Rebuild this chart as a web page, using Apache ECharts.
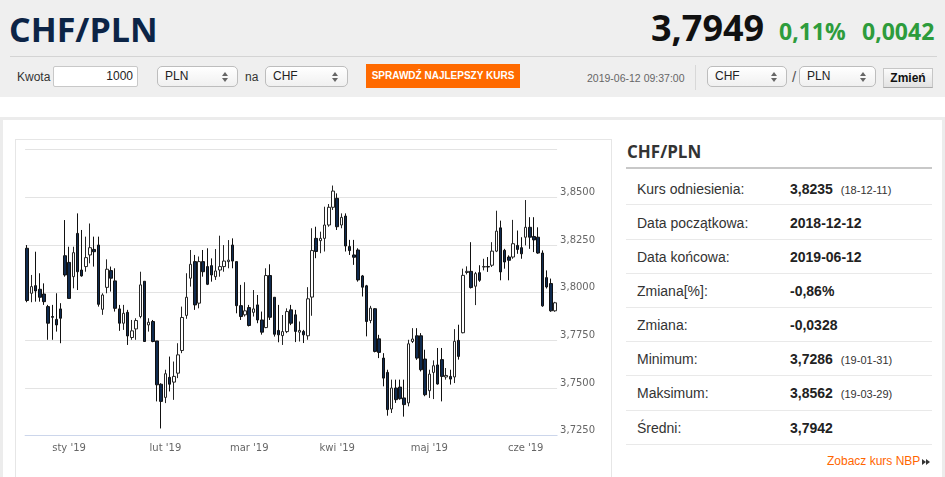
<!DOCTYPE html>
<html lang="pl">
<head>
<meta charset="utf-8">
<title>CHF/PLN</title>
<script src="https://cdn.jsdelivr.net/npm/echarts@6/dist/echarts.min.js"></script>
<style>
    html, body { margin: 0; padding: 0; }
    body { width: 945px; height: 477px; overflow: hidden; position: relative; background: #fff;
           font-family: "Liberation Sans", Arial, sans-serif; color: #333; }
    .abs { position: absolute; white-space: nowrap; }
    #header { position: absolute; left: 0; top: 0; width: 945px; height: 97px; background: #efefef; }
    .os { font-family: "Open Sans", sans-serif; font-weight: 700; }
    .sel { position: absolute; top: 66px; height: 21px; box-sizing: border-box; border: 1px solid #bdbdbd;
           border-radius: 5px; background: linear-gradient(#ffffff, #f0f0f0); font-size: 12px; line-height: 18px;
           padding-left: 7px; color: #222; }
    .sel .arr { position: absolute; right: 9px; top: 5px; width: 6px; height: 10px; }
    .sel .arr:before, .sel .arr:after { content: ''; position: absolute; left: 0; width: 0; height: 0;
           border-left: 3px solid transparent; border-right: 3px solid transparent; }
    .sel .arr:before { top: 0; border-bottom: 4px solid #666; }
    .sel .arr:after { top: 6px; border-top: 4px solid #666; }
    #frame { position: absolute; left: 0; top: 117px; width: 945px; height: 380px; box-sizing: border-box;
             border: 3px solid #ececec; background: #fff; }
    #chartBox { position: absolute; left: 15px; top: 139px; width: 597px; height: 350px; box-sizing: border-box;
                border: 1px solid #e6e6e6; }
    #chart { position: absolute; left: 16px; top: 140px; width: 595px; height: 337px; }
    .row-l { position: absolute; left: 637px; font-size: 14px; line-height: 16px; color: #333; white-space: nowrap; }
    .row-v { position: absolute; left: 790px; font-size: 14px; line-height: 16px; font-weight: bold; color: #222; white-space: nowrap; }
    .row-v small { font-size: 11px; font-weight: normal; color: #333; margin-left: 8px; }
    .sep { position: absolute; left: 626px; width: 306px; height: 1px; background: #e9e9e9; }
</style>
</head>
<body>

<div id="header">
    <div class="abs os" style="left:9px; top:12px; font-size:34px; line-height:34px; color:#0c2446;">CHF/PLN</div>
    <div class="abs os" style="left:651px; top:10px; font-size:36px; line-height:36px; color:#111;">3,7949</div>
    <div class="abs os" style="left:779px; top:20px; font-size:23px; line-height:23px; color:#2d9c3c;">0,11%</div>
    <div class="abs os" style="left:862px; top:20px; font-size:23px; line-height:23px; color:#2d9c3c;">0,0042</div>
    <div class="abs" style="left:10px; top:56px; width:927px; height:1px; background:#d4d4d4;"></div>

    <div class="abs" style="left:17px; top:69px; font-size:12px; line-height:16px; color:#333;">Kwota</div>
    <div class="abs" style="left:53px; top:66px; width:85px; height:21px; box-sizing:border-box; border:1px solid #c8c8c8;
         border-radius:2px; background:#fff; font-size:12px; line-height:19px; text-align:right; padding-right:4px; color:#222;">1000</div>
    <div class="sel" style="left:157px; width:81px;">PLN<span class="arr"></span></div>
    <div class="abs" style="left:245px; top:69px; font-size:12px; line-height:16px; color:#333;">na</div>
    <div class="sel" style="left:265px; width:83px;">CHF<span class="arr"></span></div>
    <div class="abs" style="left:366px; top:64px; width:154px; height:24px; background:#ff6a00; color:#fff;
         font-size:10px; font-weight:bold; line-height:24px; text-align:center;">SPRAWDŹ NAJLEPSZY KURS</div>

    <div class="abs" style="left:587px; top:71px; font-size:10.5px; line-height:14px; color:#666;">2019-06-12 09:37:00</div>
    <div class="abs" style="left:695px; top:65px; width:1px; height:25px; background:#d8d8d8;"></div>
    <div class="sel" style="left:707px; width:80px;">CHF<span class="arr"></span></div>
    <div class="abs" style="left:792px; top:68px; font-size:15px; line-height:18px; color:#555;">/</div>
    <div class="sel" style="left:799px; width:77px;">PLN<span class="arr"></span></div>
    <div class="abs" style="left:883px; top:68px; width:50px; height:20px; box-sizing:border-box; border:1px solid #c6c6c6;
         border-bottom-color:#aaa; background:linear-gradient(#fbfbfb, #e2e2e2); font-size:12px; font-weight:bold;
         line-height:18px; text-align:center; color:#111;">Zmień</div>
</div>

<div id="frame"></div>
<div id="chartBox"></div>
<div id="chart"></div>

<div class="abs os" style="left:627px; top:143px; font-size:17px; line-height:17px; color:#333;">CHF/PLN</div>
<div class="abs" style="left:626px; top:167px; width:306px; height:2px; background:#c8c8c8;"></div>
<div id="stats"></div>

<div class="abs" style="left:827px; top:454px; font-size:12px; line-height:15px; color:#ff6600;">Zobacz kurs NBP</div>
<div class="abs" style="left:922px; top:459px; width:0; height:0; border-top:3px solid transparent; border-bottom:3px solid transparent; border-left:4px solid #333;"></div>
<div class="abs" style="left:926px; top:459px; width:0; height:0; border-top:3px solid transparent; border-bottom:3px solid transparent; border-left:4px solid #333;"></div>

<script>
// notowania dzienne CHF/PLN, 2018-12-18 .. 2019-06-12 (dni robocze)
var opens = [
    3.8233, 3.7997, 3.8037, 3.8018, 3.7993, 3.7927, 3.7875, 3.7860, 3.7915, 3.8194,
    3.8159, 3.8084, 3.8311, 3.8119, 3.8137, 3.8198, 3.8227, 3.8250, 3.7913, 3.8028,
    3.8116, 3.8062, 3.7915, 3.7840, 3.7897, 3.7765, 3.7810, 3.7875, 3.8060, 3.7831,
    3.7849, 3.7747, 3.7520, 3.7451, 3.7556, 3.7531, 3.7578, 3.7697, 3.7881, 3.8076,
    3.8163, 3.7945, 3.8163, 3.8137, 3.8142, 3.8084, 3.8119, 3.8137, 3.8163, 3.8250,
    3.8163, 3.7932, 3.7884, 3.7922, 3.7897, 3.7936, 3.7857, 3.7817, 3.8090, 3.7976,
    3.7802, 3.7775, 3.7796, 3.7910, 3.7884, 3.7793, 3.7797, 3.7774, 3.7977, 3.8285,
    3.8273, 3.8285, 3.8355, 3.8448, 3.8495, 3.8355, 3.8402, 3.8242, 3.8198, 3.8224,
    3.8088, 3.8036, 3.7854, 3.7916, 3.7758, 3.7657, 3.7582, 3.7390, 3.7500, 3.7505,
    3.7448, 3.7422, 3.7744, 3.7774, 3.7774, 3.7652, 3.7486, 3.7582, 3.7621, 3.7649,
    3.7558, 3.7561, 3.7558, 3.7750, 3.7790, 3.8106, 3.8112, 3.8034, 3.8105, 3.8135,
    3.8137, 3.8144, 3.8218, 3.8340, 3.8222, 3.8187, 3.8187, 3.8248, 3.8236, 3.8291,
    3.8343, 3.8295, 3.8291, 3.8208, 3.8079, 3.8048, 3.7905
];
var highs = [
    3.8250, 3.8093, 3.8215, 3.8102, 3.8049, 3.7936, 3.7936, 3.7997, 3.7945, 3.8381,
    3.8241, 3.8241, 3.8416, 3.8329, 3.8294, 3.8363, 3.8294, 3.8294, 3.7997, 3.8175,
    3.8137, 3.8128, 3.7936, 3.7936, 3.7910, 3.7857, 3.7866, 3.8110, 3.8060, 3.7866,
    3.7857, 3.7747, 3.7525, 3.7596, 3.7665, 3.7639, 3.7735, 3.7927, 3.8102, 3.8224,
    3.8198, 3.8190, 3.8224, 3.8233, 3.8180, 3.8229, 3.8299, 3.8250, 3.8276, 3.8285,
    3.8163, 3.8041, 3.8055, 3.7936, 3.8014, 3.7988, 3.7901, 3.8128, 3.8149, 3.7976,
    3.7936, 3.7883, 3.7918, 3.7936, 3.7910, 3.7849, 3.7805, 3.8029, 3.8338, 3.8346,
    3.8320, 3.8451, 3.8465, 3.8562, 3.8521, 3.8416, 3.8416, 3.8277, 3.8277, 3.8233,
    3.8093, 3.8041, 3.7931, 3.7919, 3.7779, 3.7683, 3.7596, 3.7544, 3.7544, 3.7544,
    3.7544, 3.7753, 3.7814, 3.7814, 3.7788, 3.7701, 3.7596, 3.7645, 3.7710, 3.7710,
    3.7605, 3.7596, 3.7809, 3.7832, 3.8126, 3.8138, 3.8265, 3.8109, 3.8144, 3.8178,
    3.8187, 3.8265, 3.8430, 3.8378, 3.8230, 3.8196, 3.8382, 3.8326, 3.8291, 3.8486,
    3.8396, 3.8396, 3.8343, 3.8222, 3.8117, 3.8074, 3.7952
];
var lows = [
    3.7950, 3.7950, 3.7953, 3.7953, 3.7936, 3.7753, 3.7753, 3.7796, 3.7735, 3.8084,
    3.7970, 3.8023, 3.8014, 3.8084, 3.8110, 3.8154, 3.8137, 3.7927, 3.7884, 3.7997,
    3.8006, 3.7901, 3.7800, 3.7805, 3.7726, 3.7753, 3.7753, 3.7866, 3.7744, 3.7796,
    3.7740, 3.7430, 3.7288, 3.7421, 3.7482, 3.7438, 3.7552, 3.7683, 3.7863, 3.8032,
    3.7910, 3.7918, 3.8084, 3.8040, 3.8058, 3.8067, 3.8084, 3.8110, 3.8128, 3.8128,
    3.7892, 3.7857, 3.7875, 3.7823, 3.7875, 3.7840, 3.7780, 3.7814, 3.7857, 3.7770,
    3.7740, 3.7726, 3.7788, 3.7830, 3.7741, 3.7744, 3.7736, 3.7753, 3.7879, 3.8181,
    3.8207, 3.8216, 3.8346, 3.8434, 3.8329, 3.8338, 3.8216, 3.8198, 3.8146, 3.8058,
    3.7980, 3.7771, 3.7840, 3.7687, 3.7657, 3.7509, 3.7355, 3.7369, 3.7422, 3.7439,
    3.7350, 3.7404, 3.7736, 3.7648, 3.7587, 3.7457, 3.7448, 3.7442, 3.7518, 3.7430,
    3.7544, 3.7518, 3.7526, 3.7649, 3.7787, 3.8096, 3.8022, 3.7935, 3.8057, 3.8117,
    3.8109, 3.8135, 3.8213, 3.8065, 3.8126, 3.8065, 3.8178, 3.8204, 3.8178, 3.8248,
    3.8230, 3.8213, 3.8204, 3.7926, 3.8022, 3.7900, 3.7900
];
var closes = [
    3.7959, 3.8032, 3.8009, 3.7976, 3.7953, 3.7840, 3.7871, 3.7831, 3.7866, 3.8093,
    3.7970, 3.8210, 3.8110, 3.8088, 3.8184, 3.8236, 3.8215, 3.7939, 3.7988, 3.8123,
    3.8076, 3.7918, 3.7840, 3.7892, 3.7773, 3.7800, 3.7854, 3.8041, 3.7744, 3.7845,
    3.7744, 3.7517, 3.7430, 3.7575, 3.7520, 3.7561, 3.7674, 3.7870, 3.7976, 3.8149,
    3.7936, 3.8163, 3.8110, 3.8044, 3.8093, 3.8114, 3.8137, 3.8166, 3.8171, 3.8166,
    3.7932, 3.7875, 3.7905, 3.7828, 3.7915, 3.7857, 3.7793, 3.8090, 3.7871, 3.7782,
    3.7779, 3.7796, 3.7901, 3.7840, 3.7797, 3.7802, 3.7779, 3.7968, 3.8221, 3.8216,
    3.8285, 3.8355, 3.8448, 3.8533, 3.8346, 3.8395, 3.8245, 3.8221, 3.8186, 3.8067,
    3.8029, 3.7849, 3.7919, 3.7692, 3.7687, 3.7552, 3.7387, 3.7500, 3.7439, 3.7444,
    3.7413, 3.7732, 3.7757, 3.7657, 3.7596, 3.7465, 3.7573, 3.7617, 3.7521, 3.7561,
    3.7566, 3.7547, 3.7745, 3.7666, 3.8091, 3.8112, 3.8027, 3.8100, 3.8065, 3.8137,
    3.8135, 3.8218, 3.8323, 3.8109, 3.8161, 3.8170, 3.8257, 3.8227, 3.8204, 3.8343,
    3.8291, 3.8277, 3.8208, 3.7931, 3.8030, 3.7905, 3.7947
];

var monthNames = ['sty', 'lut', 'mar', 'kwi', 'maj', 'cze', 'lip', 'sie', 'wrz', 'paź', 'lis', 'gru'];
var yTicks = { min: 3.725, max: 3.875, step: 0.025 };

var statLabels = ['Kurs odniesienia:', 'Data początkowa:', 'Data końcowa:', 'Zmiana[%]:', 'Zmiana:', 'Minimum:', 'Maksimum:', 'Średni:'];
var statValues = ['3,8235', '2018-12-12', '2019-06-12', '-0,86%', '-0,0328', '3,7286', '3,8562', '3,7942'];
var statNotes  = ['(18-12-11)', '', '', '', '', '(19-01-31)', '(19-03-29)', ''];

// kalendarz dni roboczych (oś kategorii)
var dates = [];
(function () {
    var d = new Date(Date.UTC(2018, 11, 18));
    var end = Date.UTC(2019, 5, 12);
    while (d.getTime() <= end) {
        var wd = d.getUTCDay();
        if (wd !== 0 && wd !== 6) {
            dates.push(d.toISOString().slice(0, 10));
        }
        d.setUTCDate(d.getUTCDate() + 1);
    }
})();

var chartExecute = function () {

    var isMonthStart = function (index) {
        return index > 0 && dates[index].slice(5, 7) !== dates[index - 1].slice(5, 7);
    };

    var candleChart = function (id) {
        var myChart = echarts.init(document.getElementById(id));

        var ohlc = [];
        for (var i = 0; i < opens.length; i++) {
            ohlc.push([opens[i], closes[i], lows[i], highs[i]]);
        }

        var option = {
            animation: false,
            grid: {
                left: 9.1,
                top: 9.7,
                width: 532,
                height: 286
            },
            xAxis: {
                type: 'category',
                data: dates,
                boundaryGap: true,
                axisLine: {
                    lineStyle: { color: '#ccd6eb' }
                },
                axisTick: {
                    alignWithLabel: true,
                    length: 9,
                    interval: isMonthStart,
                    lineStyle: { color: '#ccd6eb' }
                },
                axisLabel: {
                    interval: isMonthStart,
                    margin: 8,
                    color: '#666',
                    fontSize: 10,
                    fontFamily: 'DejaVu Sans',
                    formatter: function (value) {
                        return monthNames[parseInt(value.slice(5, 7), 10) - 1] + " '" + value.slice(2, 4);
                    }
                },
                splitLine: { show: false }
            },
            yAxis: {
                type: 'value',
                position: 'right',
                min: yTicks.min,
                max: yTicks.max,
                interval: yTicks.step,
                axisLine: { show: false },
                axisTick: { show: false },
                splitLine: {
                    lineStyle: { color: '#e3e3e3' }
                },
                axisLabel: {
                    margin: 3,
                    verticalAlign: 'bottom',
                    color: '#666',
                    fontSize: 10,
                    fontFamily: 'DejaVu Sans',
                    formatter: function (v) {
                        if (Math.abs(v - yTicks.max) < 1e-6) {
                            return '';  // górna linia bez opisu
                        }
                        return v.toFixed(4).replace('.', ',');
                    }
                }
            },
            series: [{
                name: 'CHF/PLN',
                type: 'candlestick',
                data: ohlc,
                barWidth: 3,
                itemStyle: {
                    color: '#ffffff',        // wzrost
                    color0: '#0f2a4e',       // spadek
                    borderColor: '#262626',
                    borderColor0: '#111111',
                    borderWidth: 1
                }
            }]
        };

        window.addEventListener("resize", function () {
            myChart.resize();
        });
        myChart.setOption(option);
    };

    var statsTable = function (id) {
        var box = document.getElementById(id);
        var html = '';
        for (var i = 0; i < statLabels.length; i++) {
            var cy = 188.5 + 34.15 * i;
            html += '<div class="row-l" style="top:' + (cy - 8) + 'px">' + statLabels[i] + '</div>';
            html += '<div class="row-v" style="top:' + (cy - 8) + 'px">' + statValues[i] +
                (statNotes[i] ? '<small>' + statNotes[i] + '</small>' : '') + '</div>';
            html += '<div class="sep" style="top:' + Math.round(204.3 + 34.2 * i) + 'px"></div>';
        }
        box.innerHTML = html;
    };

    return {
        candleChart: candleChart,
        statsTable: statsTable
    };
}();

chartExecute.candleChart('chart');
chartExecute.statsTable('stats');
</script>
</body>
</html>
